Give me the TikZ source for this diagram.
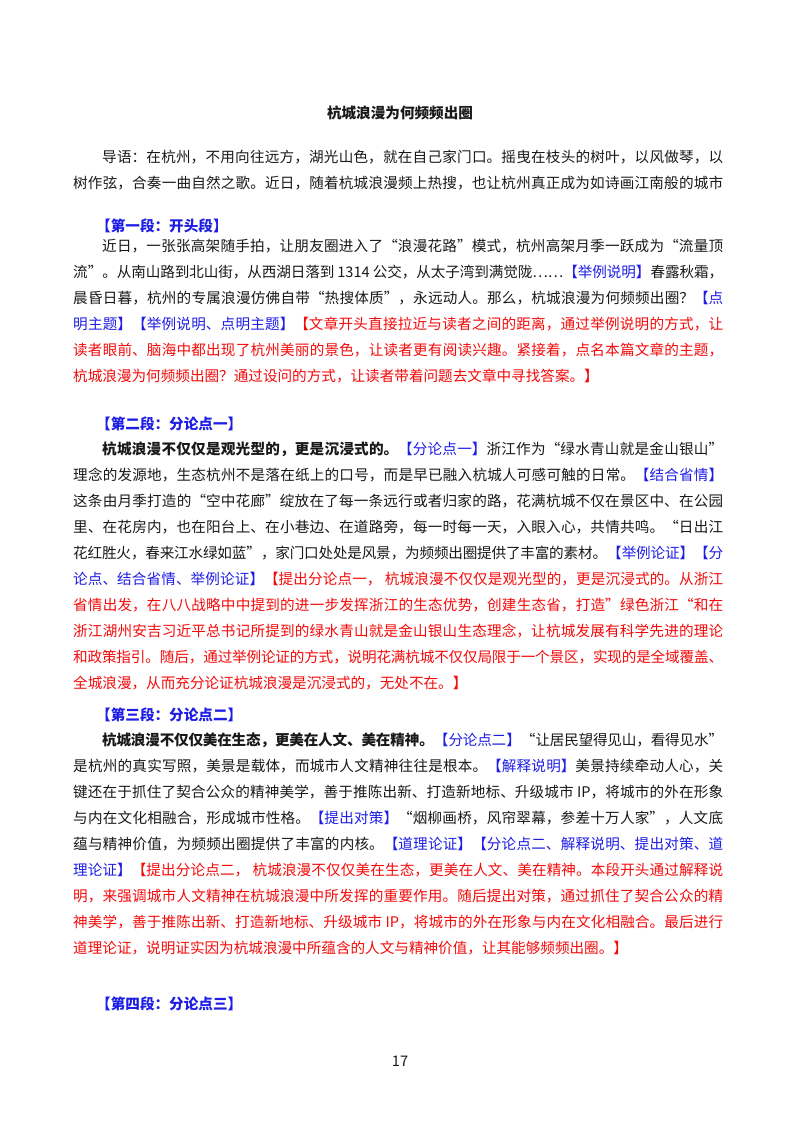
\documentclass[tikz,border=0pt]{standalone}
\usepackage{fontspec}
\setmainfont{Noto Sans CJK SC}
\definecolor{lblue}{RGB}{30,30,230}
\definecolor{lred}{RGB}{245,10,10}
\definecolor{ltext}{RGB}{25,25,25}
\newcommand\B[1]{{\color{lblue}#1}}
\newcommand\R[1]{{\color{lred}#1}}
\newcommand\JL[5]{\node[txt] (#1) at (#2,#3) {\parbox[b]{#4pt}{\XeTeXlinebreaklocale "zh"\XeTeXlinebreakskip=0pt plus 4pt minus 0.6pt\tolerance=10000\hbadness=10000\parfillskip=0pt\noindent #5}};}
\newcommand\LL[4]{\node[txt] (#1) at (#2,#3) {#4};}
\begin{document}
\begin{tikzpicture}[x=1pt,y=-1pt,
  txt/.style={anchor=base west,inner sep=0pt,font=\fontsize{14.6}{18}\selectfont,text=ltext}]
\useasboundingbox[fill=white] (0,0) rectangle (800,1132);
\node[anchor=base,inner sep=0pt,font=\fontsize{14.6}{18}\selectfont\bfseries,text=ltext] (title) at (400,118) {杭城浪漫为何频频出圈};
% intro
\JL{i1}{102}{162}{621}{导语：在杭州，不用向往远方，湖光山色，就在自己家门口。摇曳在枝头的树叶，以风做琴，以}
\JL{i2}{73}{188}{650}{树作弦，合奏一曲自然之歌。近日，随着杭城浪漫频上热搜，也让杭州真正成为如诗画江南般的城市}
% para 1
\LL{h1}{96}{231}{\bfseries\B{【第一段：开头段】}}
\JL{a1}{102}{251}{621}{近日，一张张高架随手拍，让朋友圈进入了“浪漫花路”模式，杭州高架月季一跃成为“流量顶}
\JL{a2}{73}{277}{650}{流”。从南山路到北山街，从西湖日落到 1314 公交，从太子湾到满觉陇……\B{【举例说明】}春露秋霜，}
\JL{a3}{73}{303}{650}{晨昏日暮，杭州的专属浪漫仿佛自带“热搜体质”，永远动人。那么，杭城浪漫为何频频出圈？\B{【点}}
\JL{a4}{73}{329}{650}{\B{明主题】【举例说明、点明主题】}\R{【文章开头直接拉近与读者之间的距离，通过举例说明的方式，让}}
\JL{a5}{73}{355}{650}{\R{读者眼前、脑海中都出现了杭州美丽的景色，让读者更有阅读兴趣。紧接着，点名本篇文章的主题，}}
\LL{a6}{73}{381}{\R{杭城浪漫为何频频出圈？通过设问的方式，让读者带着问题去文章中寻找答案。】}}
% para 2
\LL{h2}{96}{429}{\bfseries\B{【第二段：分论点一】}}
\JL{b1}{102}{454}{621}{\textbf{杭城浪漫不仅仅是观光型的，更是沉浸式的。}\B{【分论点一】}浙江作为“绿水青山就是金山银山”}
\JL{b2}{73}{480}{650}{理念的发源地，生态杭州不是落在纸上的口号，而是早已融入杭城人可感可触的日常。\B{【结合省情】}}
\JL{b3}{73}{506}{650}{这条由月季打造的“空中花廊”绽放在了每一条远行或者归家的路，花满杭城不仅在景区中、在公园}
\JL{b4}{73}{532}{650}{里、在花房内，也在阳台上、在小巷边、在道路旁，每一时每一天，入眼入心，共情共鸣。“日出江}
\JL{b5}{73}{558}{650}{花红胜火，春来江水绿如蓝”，家门口处处是风景，为频频出圈提供了丰富的素材。\B{【举例论证】【分}}
\JL{b6}{73}{584}{650}{\B{论点、结合省情、举例论证】}\R{【提出分论点一， 杭城浪漫不仅仅是观光型的，更是沉浸式的。从浙江}}
\JL{b7}{73}{610}{650}{\R{省情出发，在八八战略中中提到的进一步发挥浙江的生态优势，创建生态省，打造”绿色浙江“和在}}
\JL{b8}{73}{636}{650}{\R{浙江湖州安吉习近平总书记所提到的绿水青山就是金山银山生态理念，让杭城发展有科学先进的理论}}
\JL{b9}{73}{662}{650}{\R{和政策指引。随后，通过举例论证的方式，说明花满杭城不仅仅局限于一个景区，实现的是全域覆盖、}}
\LL{b10}{73}{688}{\R{全城浪漫，从而充分论证杭城浪漫是沉浸式的，无处不在。】}}
% para 3
\LL{h3}{96}{720}{\bfseries\B{【第三段：分论点二】}}
\JL{c1}{102}{745}{621}{\textbf{杭城浪漫不仅仅美在生态，更美在人文、美在精神。}\B{【分论点二】}“让居民望得见山，看得见水”}
\JL{c2}{73}{771}{650}{是杭州的真实写照，美景是载体，而城市人文精神往往是根本。\B{【解释说明】}美景持续牵动人心，关}
\JL{c3}{73}{797}{650}{键还在于抓住了契合公众的精神美学，善于推陈出新、打造新地标、升级城市 IP，将城市的外在形象}
\JL{c4}{73}{823}{650}{与内在文化相融合，形成城市性格。\B{【提出对策】}“烟柳画桥，风帘翠幕，参差十万人家”，人文底}
\JL{c5}{73}{849}{650}{蕴与精神价值，为频频出圈提供了丰富的内核。\B{【道理论证】【分论点二、解释说明、提出对策、道}}
\JL{c6}{73}{875}{650}{\B{理论证】}\R{【提出分论点二， 杭城浪漫不仅仅美在生态，更美在人文、美在精神。本段开头通过解释说}}
\JL{c7}{73}{901}{650}{\R{明，来强调城市人文精神在杭城浪漫中所发挥的重要作用。随后提出对策，通过抓住了契合公众的精}}
\JL{c8}{73}{927}{650}{\R{神美学，善于推陈出新、打造新地标、升级城市 IP，将城市的外在形象与内在文化相融合。最后进行}}
\LL{c9}{73}{953}{\R{道理论证，说明证实因为杭城浪漫中所蕴含的人文与精神价值，让其能够频频出圈。】}}
% para 4
\LL{h4}{96}{1009}{\bfseries\B{【第四段：分论点三】}}
\node[anchor=base,inner sep=0pt,font=\fontsize{14.6}{18}\selectfont,text=ltext] (pg) at (400,1066) {17};
\end{tikzpicture}
\end{document}
